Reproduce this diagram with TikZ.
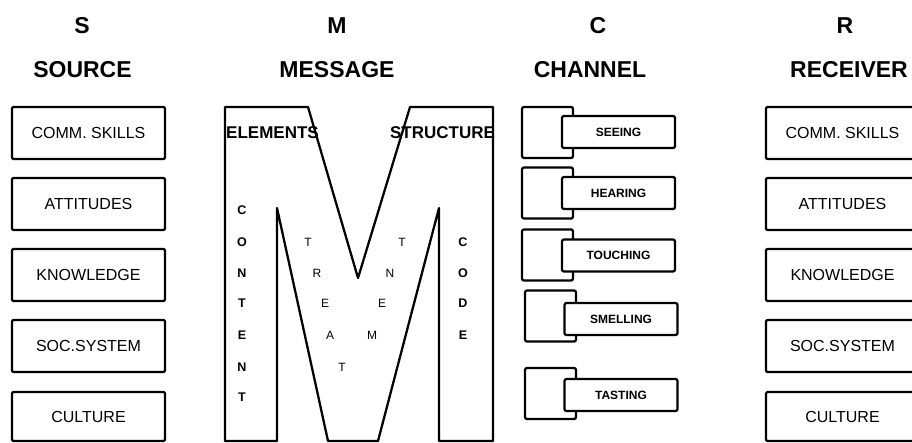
\documentclass[tikz,border=0pt]{standalone}
\usepackage{fontspec}
\setmainfont{Liberation Sans}
\begin{document}
\begin{tikzpicture}[x=0.75pt,y=-0.75pt,
  line width=1.7pt, line join=round,
  head/.style={font=\bfseries\fontsize{17.25pt}{18pt}\selectfont, inner sep=0pt, text height=12.35pt, text depth=0pt},
  attr/.style={draw, rounded corners=1pt, minimum width=114.75pt, minimum height=39pt, inner sep=0pt,
    font=\fontsize{12pt}{14pt}\selectfont, text height=8.6pt, text depth=0pt},
  back/.style={draw, rounded corners=1.5pt, minimum width=38.25pt, minimum height=38.25pt, inner sep=0pt},
  front/.style={draw, fill=white, rounded corners=1.5pt, minimum width=84.75pt, minimum height=24pt, inner sep=0pt,
    font=\bfseries\fontsize{9pt}{10pt}\selectfont, text height=6.45pt, text depth=0pt},
  mlabel/.style={font=\bfseries\fontsize{12.75pt}{14pt}\selectfont, inner sep=0pt, text height=9.1pt, text depth=0pt},
  vlet/.style={font=\bfseries\fontsize{9.4pt}{10pt}\selectfont, inner sep=0pt, text height=6.7pt, text depth=0pt},
  tlet/.style={font=\fontsize{9pt}{10pt}\selectfont, inner sep=0pt, text height=6.45pt, text depth=0pt}
]
\useasboundingbox (0,0) rectangle (912,442);
\clip (0,0) rectangle (912,442);
\fill[white] (0,0) rectangle (912,442);

% headers
\node[head] (hS) at (82,25) {S};
\node[head] (hSource) at (82.5,69) {SOURCE};
\node[head] (hM) at (337,25) {M};
\node[head] (hMessage) at (337,69) {MESSAGE};
\node[head] (hC) at (598,25) {C};
\node[head] (hChannel) at (590,69) {CHANNEL};
\node[head] (hR) at (845,25) {R};
\node[head] (hReceiver) at (849,69) {RECEIVER};

% source boxes
\node[attr] (s1) at (88.5,133) {COMM. SKILLS};
\node[attr] (s2) at (88.5,204) {ATTITUDES};
\node[attr] (s3) at (88.5,275) {KNOWLEDGE};
\node[attr] (s4) at (88.5,346) {SOC.SYSTEM};
\node[attr, minimum height=36.75pt] (s5) at (88.5,416.5) {CULTURE};

% receiver boxes
\node[attr] (r1) at (842.5,133) {COMM. SKILLS};
\node[attr] (r2) at (842.5,204) {ATTITUDES};
\node[attr] (r3) at (842.5,275) {KNOWLEDGE};
\node[attr] (r4) at (842.5,346) {SOC.SYSTEM};
\node[attr, minimum height=36.75pt] (r5) at (842.5,416.5) {CULTURE};

% M shape
\draw (225,441) -- (225,107) -- (308,107) -- (358,278) -- (410,107) -- (493,107)
  -- (493,441) -- (439,441) -- (439,208) -- (378,441) -- (328,441) -- (277,208)
  -- (277,441) -- cycle;
\node[mlabel] (elements) at (272.5,132) {ELEMENTS};
\node[mlabel] (structure) at (442.5,132) {STRUCTURE};

% CONTENT
\node[vlet] (c1) at (242,210) {C};
\node[vlet] (c2) at (242,242) {O};
\node[vlet] (c3) at (242,273) {N};
\node[vlet] (c4) at (242,303) {T};
\node[vlet] (c5) at (242,335) {E};
\node[vlet] (c6) at (242,367) {N};
\node[vlet] (c7) at (242,397) {T};
% CODE
\node[vlet] (d1) at (463,242) {C};
\node[vlet] (d2) at (463,273) {O};
\node[vlet] (d3) at (463,303) {D};
\node[vlet] (d4) at (463,335) {E};
% TREATMENT
\node[tlet] (t1) at (308,242) {T};
\node[tlet] (t2) at (317,273) {R};
\node[tlet] (t3) at (325,303) {E};
\node[tlet] (t4) at (330,335) {A};
\node[tlet] (t5) at (342,367) {T};
\node[tlet] (t6) at (372,335) {M};
\node[tlet] (t7) at (382,303) {E};
\node[tlet] (t8) at (390,273) {N};
\node[tlet] (t9) at (402,242) {T};

% channel
\node[back] (cb1) at (547.5,132.5) {};
\node[back] (cb2) at (547.5,193) {};
\node[back] (cb3) at (547.5,255) {};
\node[back] (cb4) at (550.5,316) {};
\node[back] (cb5) at (550.5,393.5) {};
\node[front] (cf1) at (618.5,132) {SEEING};
\node[front] (cf2) at (618.5,193) {HEARING};
\node[front] (cf3) at (618.5,255.5) {TOUCHING};
\node[front] (cf4) at (621,319) {SMELLING};
\node[front] (cf5) at (621,395) {TASTING};
\end{tikzpicture}
\end{document}
